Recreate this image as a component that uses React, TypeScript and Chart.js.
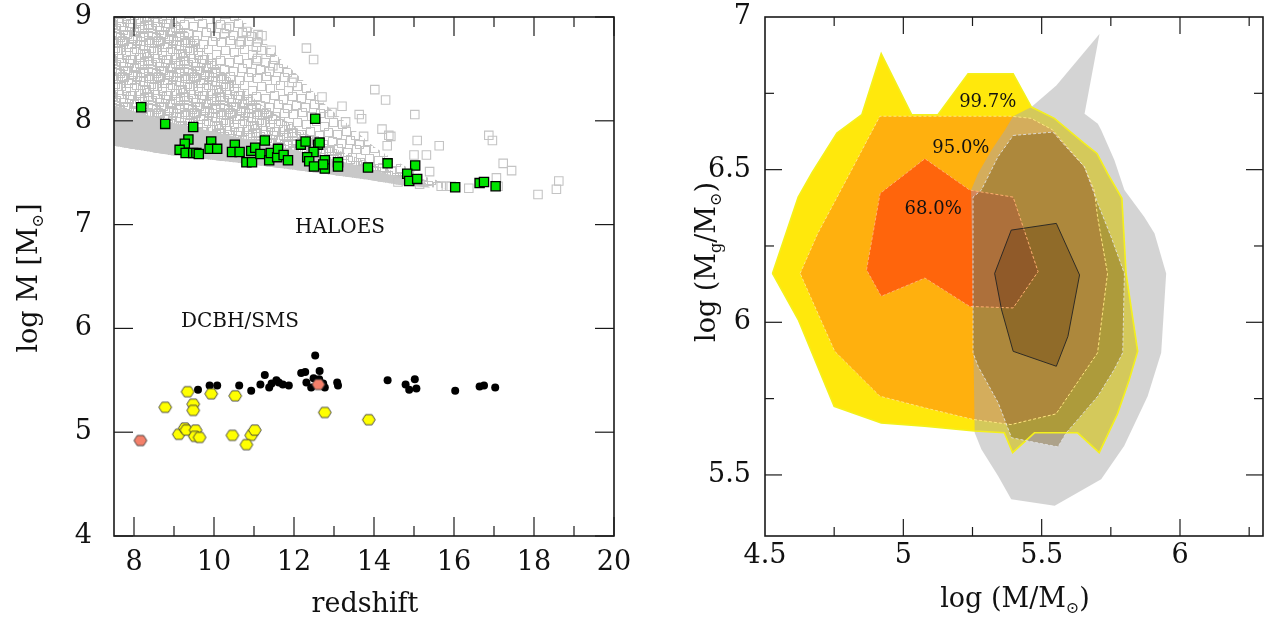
import React, { useEffect, useRef } from 'react';
import { Chart, registerables } from 'chart.js';

Chart.register(...registerables);

const FONT = '"DejaVu Serif", "Liberation Serif", serif';

// ---------------- Left panel data ----------------
const redshiftTicks = [8, 10, 12, 14, 16, 18, 20];
const redshiftMinorTicks = [9, 11, 13, 15, 17, 19];
const logMTicks = [4, 5, 6, 7, 8, 9];

// outlines of the halo cloud (open grey squares, too dense to separate)
const haloCloudOuter: number[][] = [
  [7.5, 9.0], [10.6, 9.0], [11.0, 8.88], [11.6, 8.62], [12.2, 8.4], [12.8, 8.15], [13.4, 7.95],
  [14.0, 7.75], [14.6, 7.6], [15.2, 7.47], [15.8, 7.4], [15.8, 7.35], [14.7, 7.38], [13.9, 7.43],
  [12.4, 7.51], [10.5, 7.6], [8.9, 7.67], [7.5, 7.76], [7.5, 9.0],
];
const haloCloudCore: number[][] = [
  [7.5, 9.0], [9.0, 9.0], [9.6, 8.75], [10.3, 8.45], [11.2, 8.15], [12.2, 7.9], [13.2, 7.7],
  [14.2, 7.55], [15.0, 7.45], [15.5, 7.37], [14.7, 7.38], [13.9, 7.43], [12.4, 7.51], [10.5, 7.6],
  [8.9, 7.67], [7.5, 7.76], [7.5, 9.0],
];
const haloCloudBand: number[][] = [
  [7.5, 8.15], [9.0, 7.98], [10.5, 7.85], [12.0, 7.72], [13.5, 7.58], [14.5, 7.47], [15.3, 7.39],
  [15.4, 7.355], [14.7, 7.38], [13.9, 7.43], [12.4, 7.51], [10.5, 7.6], [8.9, 7.67], [7.5, 7.76], [7.5, 8.15],
];
// individually visible grey halos outside the dense cloud
const haloSparse: number[][] = [
  [10.31, 8.89], [10.68, 8.76], [10.81, 8.86], [11.06, 8.71], [11.1, 8.83], [11.2, 8.82], [11.09, 8.6],
  [11.43, 8.68], [11.47, 8.53], [12.31, 8.7], [12.49, 8.59], [11.95, 8.37], [12.7, 8.23], [12.95, 8.08],
  [13.2, 8.14], [13.29, 7.99], [13.63, 8.06], [13.69, 8.02], [13.74, 7.85], [14.02, 8.3], [14.29, 8.2],
  [14.2, 7.92], [14.37, 7.86], [14.33, 7.76], [14.42, 7.85], [15.02, 8.06], [15.08, 7.81], [15.63, 7.76],
  [16.87, 7.86], [16.96, 7.81], [15.0, 7.67], [15.31, 7.67], [15.39, 7.51], [17.23, 7.59], [17.44, 7.52],
  [17.06, 7.45], [18.62, 7.42], [18.56, 7.34], [18.1, 7.29], [15.68, 7.37], [15.81, 7.37], [15.93, 7.37],
  [16.37, 7.35], [14.6, 7.41], [15.14, 7.39], [17.1, 7.37],
];
const haloHosts: number[][] = [
  [8.18, 8.13], [8.78, 7.97], [9.48, 7.94], [9.36, 7.82], [9.27, 7.78], [9.14, 7.72], [9.29, 7.69],
  [9.48, 7.69], [9.56, 7.69], [9.62, 7.68], [9.93, 7.8], [9.89, 7.73], [10.08, 7.73], [10.52, 7.77],
  [10.45, 7.7], [10.64, 7.7], [10.81, 7.6], [10.95, 7.6], [10.93, 7.71], [11.03, 7.74], [11.16, 7.68],
  [11.27, 7.81], [11.38, 7.62], [11.42, 7.69], [11.58, 7.65], [11.6, 7.73], [11.74, 7.67], [11.85, 7.62],
  [12.17, 7.77], [12.29, 7.8], [12.53, 8.02], [12.6, 7.77], [12.64, 7.79], [12.49, 7.7], [12.33, 7.65],
  [12.38, 7.61], [12.5, 7.56], [12.77, 7.62], [12.77, 7.54], [12.73, 7.58], [13.1, 7.6], [13.1, 7.56],
  [13.85, 7.55], [14.34, 7.59], [15.03, 7.57], [14.83, 7.49], [14.88, 7.42], [15.08, 7.44], [16.03, 7.36],
  [16.64, 7.4], [16.75, 7.41], [17.04, 7.37],
];
const dcbhBlack: number[][] = [
  [12.53, 5.74], [9.6, 5.41], [9.89, 5.45], [10.08, 5.45], [10.63, 5.45], [10.93, 5.4], [11.16, 5.46],
  [11.27, 5.55], [11.38, 5.43], [11.44, 5.47], [11.56, 5.5], [11.62, 5.48], [11.72, 5.46], [11.87, 5.45],
  [12.18, 5.57], [12.28, 5.58], [12.64, 5.59], [12.31, 5.48], [12.43, 5.43], [12.49, 5.52], [12.63, 5.51],
  [12.77, 5.43], [12.73, 5.47], [13.08, 5.48], [13.1, 5.45], [14.34, 5.5], [14.79, 5.46], [15.02, 5.51],
  [14.88, 5.41], [15.06, 5.42], [16.03, 5.4], [16.64, 5.44], [16.75, 5.45], [17.03, 5.43],
];
const smsYellow: number[][] = [
  [9.34, 5.39], [9.93, 5.37], [10.53, 5.35], [8.78, 5.24], [9.48, 5.27], [9.48, 5.21], [12.77, 5.19],
  [13.87, 5.12], [9.12, 4.98], [9.27, 5.04], [9.31, 5.02], [9.54, 5.02], [9.52, 4.96], [9.64, 4.95],
  [10.46, 4.97], [10.93, 4.97], [11.02, 5.02], [10.81, 4.88],
];
const smsSalmon: number[][] = [[8.16, 4.92], [12.61, 5.46]];

const leftTexts = [
  { text: 'HALOES', x: 13.15, y: 6.97 },
  { text: 'DCBH/SMS', x: 10.65, y: 6.06 },
];

// ---------------- Right panel data ----------------
const logMxTicks = [4.5, 5, 5.5, 6];
const logMxMajor = [5, 5.5, 6];
const logMxMinor = [4.75, 5.25, 5.75, 6.25];
const logMgTicks = [5.5, 6, 6.5, 7];
const logMgMajor = [5.5, 6, 6.5];
const logMgMinor = [5.75, 6.25, 6.75];

const contour997: number[][] = [
  [4.527, 6.16], [4.62, 6.41], [4.67, 6.49], [4.76, 6.62], [4.85, 6.68], [4.92, 6.88], [5.03, 6.68],
  [5.125, 6.68], [5.234, 6.814], [5.397, 6.814], [5.463, 6.705], [5.546, 6.668], [5.654, 6.586],
  [5.7, 6.553], [5.738, 6.488], [5.79, 6.406], [5.805, 6.16], [5.847, 5.905], [5.816, 5.81],
  [5.774, 5.7], [5.708, 5.573], [5.63, 5.638], [5.474, 5.638], [5.395, 5.573], [5.365, 5.638],
  [5.257, 5.644], [5.077, 5.66], [4.92, 5.67], [4.75, 5.725], [4.62, 6.009], [4.527, 6.16],
];
const contour950: number[][] = [
  [4.627, 6.16], [4.69, 6.29], [4.8, 6.477], [4.915, 6.675], [5.389, 6.675], [5.462, 6.668],
  [5.54, 6.63], [5.654, 6.51], [5.69, 6.433], [5.702, 6.346], [5.738, 6.16], [5.702, 5.9],
  [5.552, 5.7], [5.389, 5.665], [5.251, 5.682], [5.077, 5.72], [4.915, 5.758], [4.752, 5.905],
  [4.627, 6.16],
];
const contour680: number[][] = [
  [4.867, 6.172], [4.916, 6.422], [5.078, 6.536], [5.24, 6.433], [5.397, 6.41], [5.487, 6.166],
  [5.397, 6.047], [5.24, 6.052], [5.078, 6.145], [4.92, 6.085], [4.867, 6.172],
];
const second997: number[][] = [
  [5.245, 6.433], [5.27, 6.487], [5.319, 6.564], [5.367, 6.629], [5.397, 6.675], [5.463, 6.705],
  [5.553, 6.776], [5.709, 6.944], [5.655, 6.683], [5.703, 6.65], [5.715, 6.63], [5.763, 6.531],
  [5.799, 6.433], [5.871, 6.345], [5.908, 6.291], [5.95, 6.16], [5.932, 5.9], [5.883, 5.758],
  [5.798, 5.595], [5.715, 5.486], [5.547, 5.399], [5.39, 5.42], [5.342, 5.497], [5.282, 5.584],
  [5.258, 5.638], [5.252, 6.0], [5.245, 6.433],
];
const second950: number[][] = [
  [5.397, 6.612], [5.541, 6.623], [5.588, 6.575], [5.655, 6.509], [5.703, 6.389], [5.751, 6.28],
  [5.799, 6.16], [5.793, 5.9], [5.762, 5.845], [5.703, 5.758], [5.631, 5.682], [5.589, 5.638],
  [5.559, 5.592], [5.451, 5.611], [5.391, 5.622], [5.343, 5.736], [5.27, 5.856], [5.252, 5.9],
  [5.252, 6.41], [5.282, 6.433], [5.342, 6.542], [5.397, 6.612],
];
const second680: number[][] = [
  [5.39, 6.302], [5.553, 6.324], [5.637, 6.155], [5.595, 5.954], [5.553, 5.856], [5.397, 5.905],
  [5.355, 6.041], [5.33, 6.16], [5.39, 6.302],
];
const rightTexts = [
  { text: '99.7%', x: 5.305, y: 6.721 },
  { text: '95.0%', x: 5.208, y: 6.571 },
  { text: '68.0%', x: 5.108, y: 6.369 },
];

// ---------------- helpers ----------------
const pts = (a: number[][]) => a.map(([x, y]) => ({ x, y }));

function hexImage(fill: string) {
  const c = document.createElement('canvas');
  c.width = 16; c.height = 14;
  const g = c.getContext('2d')!;
  g.beginPath();
  const r = 6.4;
  for (let i = 0; i < 6; i++) {
    const a = (Math.PI / 3) * i;
    const x = 8 + r * Math.cos(a);
    const y = 7 + r * Math.sin(a) * 0.92;
    if (i === 0) g.moveTo(x, y); else g.lineTo(x, y);
  }
  g.closePath();
  g.fillStyle = fill;
  g.fill();
  g.strokeStyle = '#3a3a3a';
  g.lineWidth = 0.9;
  g.stroke();
  return c;
}

function meshPattern(ctx: CanvasRenderingContext2D, offs: number[][], color: string) {
  const s = 36;
  const c = document.createElement('canvas');
  c.width = s; c.height = s;
  const g = c.getContext('2d')!;
  g.strokeStyle = color;
  g.lineWidth = 1;
  for (const [x, y] of offs) {
    for (const dx of [-s, 0, s]) for (const dy of [-s, 0, s]) g.strokeRect(x + 0.5 + dx, y + 0.5 + dy, 8, 8);
  }
  return ctx.createPattern(c, 'repeat')!;
}
const DENSE_OFFS = [[0, 0], [6, 3], [12, 1], [19, 4], [25, 0], [31, 5], [3, 8], [9, 10], [16, 7], [22, 11],
  [28, 9], [34, 13], [1, 16], [7, 18], [14, 15], [20, 19], [27, 17], [32, 21], [4, 24], [11, 26], [17, 23],
  [24, 27], [30, 25], [0, 31], [8, 33], [15, 30], [21, 34], [28, 32]];
const SPARSE_OFFS = [[1, 2], [10, 0], [19, 4], [28, 1], [5, 10], [14, 12], [24, 9], [32, 14], [0, 20], [9, 22],
  [18, 19], [27, 23], [4, 29], [13, 31], [22, 28], [31, 32]];

type Seg = { t: string; sub?: boolean };
function drawRich(ctx: CanvasRenderingContext2D, segs: Seg[], cx: number, cy: number, size: number, rot: number) {
  ctx.save();
  ctx.translate(cx, cy);
  ctx.rotate(rot);
  const fonts = segs.map((s) => `${s.sub ? Math.round(size * 0.6) : size}px ${FONT}`);
  let total = 0;
  const widths = segs.map((s, i) => {
    ctx.font = fonts[i];
    const w = ctx.measureText(s.t).width;
    total += w;
    return w;
  });
  let x = -total / 2;
  ctx.fillStyle = '#111';
  ctx.textBaseline = 'alphabetic';
  ctx.textAlign = 'left';
  segs.forEach((s, i) => {
    ctx.font = fonts[i];
    ctx.fillText(s.t, x, size * 0.36 + (s.sub ? size * 0.22 : 0));
    x += widths[i];
  });
  ctx.restore();
}

type DecoCfg = {
  xMajor: number[]; xMinor: number[]; yMajor: number[]; yMinor: number[];
  major: number; minor: number;
  texts: { text: string; x: number; y: number }[]; textSize: number;
  xTitle: Seg[]; xTitlePos: [number, number]; yTitle: Seg[]; yTitlePos: [number, number]; titleSize: number;
};

function makeDeco(cfg: DecoCfg) {
  return {
    id: 'deco',
    afterDraw(chart: any) {
      const { ctx, chartArea: a, scales } = chart;
      const sx = scales.x, sy = scales.y;
      ctx.save();
      ctx.strokeStyle = '#1a1a1a';
      ctx.lineWidth = 1.2;
      const line = (x1: number, y1: number, x2: number, y2: number) => {
        ctx.beginPath(); ctx.moveTo(x1, y1); ctx.lineTo(x2, y2); ctx.stroke();
      };
      const xt = (vals: number[], len: number) => vals.forEach((v) => {
        const p = sx.getPixelForValue(v);
        line(p, a.bottom, p, a.bottom - len);
        line(p, a.top, p, a.top + len);
      });
      const yt = (vals: number[], len: number) => vals.forEach((v) => {
        const p = sy.getPixelForValue(v);
        line(a.left, p, a.left + len, p);
        line(a.right, p, a.right - len, p);
      });
      xt(cfg.xMajor, cfg.major); xt(cfg.xMinor, cfg.minor);
      yt(cfg.yMajor, cfg.major); yt(cfg.yMinor, cfg.minor);
      ctx.lineWidth = 1.6;
      ctx.strokeRect(a.left, a.top, a.right - a.left, a.bottom - a.top);
      ctx.fillStyle = '#111';
      ctx.font = `${cfg.textSize}px ${FONT}`;
      ctx.textAlign = 'center';
      ctx.textBaseline = 'middle';
      cfg.texts.forEach((t) => ctx.fillText(t.text, sx.getPixelForValue(t.x), sy.getPixelForValue(t.y)));
      ctx.restore();
      drawRich(ctx, cfg.xTitle, cfg.xTitlePos[0], cfg.xTitlePos[1], cfg.titleSize, 0);
      drawRich(ctx, cfg.yTitle, cfg.yTitlePos[0], cfg.yTitlePos[1], cfg.titleSize, -Math.PI / 2);
    },
  };
}

function axisOpts(min: number, max: number, ticks: number[], size: number, padding: number, fit: (s: any) => void) {
  return {
    type: 'linear' as const,
    min, max,
    grid: { display: false },
    border: { display: false },
    afterBuildTicks: (s: any) => { s.ticks = ticks.map((v) => ({ value: v })); },
    afterFit: (s: any) => {
      fit(s);
      s.paddingLeft = 0; s.paddingRight = 0; s.paddingTop = 0; s.paddingBottom = 0;
    },
    ticks: {
      padding,
      color: '#111',
      font: { family: FONT, size },
      autoSkip: false,
      maxRotation: 0,
      callback: (v: any) => String(v),
    },
  };
}

const polyDs = (d: number[][], bg: any, order: number) => ({
  data: pts(d), showLine: true, fill: 'shape', backgroundColor: bg, borderWidth: 0,
  borderColor: 'rgba(0,0,0,0)', pointRadius: 0, order,
});

function LeftChart() {
  const ref = useRef<HTMLCanvasElement>(null);
  useEffect(() => {
    const canvas = ref.current!;
    const ctx = canvas.getContext('2d')!;
    const yellowHex = hexImage('#ffff00');
    const salmonHex = hexImage('#f4806a');
    const chart = new Chart(canvas, {
      type: 'scatter',
      data: {
        datasets: [
          { data: pts(smsSalmon), pointStyle: salmonHex, pointRadius: 6, order: 0 },
          { data: pts(smsYellow), pointStyle: yellowHex, pointRadius: 6, order: 1 },
          { data: pts(dcbhBlack), pointStyle: 'circle', pointRadius: 4, backgroundColor: '#000', borderWidth: 0, order: 2 },
          { data: pts(haloHosts), pointStyle: 'rect', pointRadius: 6.5, backgroundColor: '#00e400', borderColor: '#000', borderWidth: 1.3, order: 3 },
          { data: pts(haloSparse), pointStyle: 'rect', pointRadius: 6, backgroundColor: 'rgba(0,0,0,0)', borderColor: '#c4c4c4', borderWidth: 1.1, order: 4 },
          polyDs(haloCloudBand, '#c8c8c8', 5),
          polyDs(haloCloudCore, meshPattern(ctx, DENSE_OFFS, 'rgb(192,192,192)'), 6),
          polyDs(haloCloudOuter, meshPattern(ctx, SPARSE_OFFS, 'rgb(196,196,196)'), 7),
        ] as any,
      },
      options: {
        responsive: false,
        animation: false,
        events: [],
        layout: { padding: { top: 17, right: 18, left: 0, bottom: 0 } },
        plugins: { legend: { display: false }, tooltip: { enabled: false } },
        scales: {
          x: axisOpts(7.5, 20, redshiftTicks, 27, 3, (s: any) => { s.height = 82; }),
          y: axisOpts(4, 9, logMTicks, 27, 14, (s: any) => { s.width = 114; }),
        },
      },
      plugins: [makeDeco({
        xMajor: redshiftTicks, xMinor: redshiftMinorTicks, yMajor: logMTicks, yMinor: [],
        major: 19, minor: 10, texts: leftTexts, textSize: 20,
        xTitle: [{ t: 'redshift' }], xTitlePos: [365, 602],
        yTitle: [{ t: 'log M [M' }, { t: '⊙', sub: true }, { t: ']' }], yTitlePos: [27, 278],
        titleSize: 27,
      })],
    });
    return () => chart.destroy();
  }, []);
  return <canvas ref={ref} width={632} height={618} style={{ display: 'block', width: 632, height: 618 }} />;
}

function RightChart() {
  const ref = useRef<HTMLCanvasElement>(null);
  useEffect(() => {
    const canvas = ref.current!;
    const outline = (d: number[][], color: string, width: number, dash: number[], order: number) => ({
      data: pts(d), showLine: true, fill: false, borderColor: color, borderWidth: width,
      borderDash: dash, pointRadius: 0, order,
    });
    const chart = new Chart(canvas, {
      type: 'scatter',
      data: {
        datasets: [
          outline(second680, '#222', 0.9, [], 0),
          outline(second950, 'rgba(225,225,225,0.9)', 1, [3, 2], 1),
          outline(contour680, '#ffb070', 1, [3, 2], 2),
          outline(contour950, '#ffe680', 1, [3, 2], 3),
          outline(contour997, '#f4f01c', 1.6, [], 4),
          polyDs(second680, 'rgba(80,40,0,0.3)', 5),
          polyDs(second950, 'rgba(100,70,0,0.35)', 6),
          polyDs(second997, 'rgba(170,170,170,0.5)', 7),
          polyDs(contour680, '#ff650c', 8),
          polyDs(contour950, '#ffb00e', 9),
          polyDs(contour997, '#ffe80c', 10),
        ] as any,
      },
      options: {
        responsive: false,
        animation: false,
        events: [],
        layout: { padding: { top: 17, right: 1, left: 0, bottom: 0 } },
        plugins: { legend: { display: false }, tooltip: { enabled: false } },
        scales: {
          x: axisOpts(4.5, 6.3, logMxTicks, 27, -4, (s: any) => { s.height = 82; }),
          y: axisOpts(5.3, 7, logMgTicks, 27, 6, (s: any) => { s.width = 133; }),
        },
      },
      plugins: [makeDeco({
        xMajor: logMxMajor, xMinor: logMxMinor, yMajor: logMgMajor, yMinor: logMgMinor,
        major: 17, minor: 9, texts: rightTexts, textSize: 18,
        xTitle: [{ t: 'log (M/M' }, { t: '⊙', sub: true }, { t: ')' }], xTitlePos: [383, 597],
        yTitle: [{ t: 'log (M' }, { t: 'g', sub: true }, { t: '/M' }, { t: '⊙', sub: true }, { t: ')' }], yTitlePos: [73, 262],
        titleSize: 27,
      })],
    });
    return () => chart.destroy();
  }, []);
  return <canvas ref={ref} width={632} height={618} style={{ display: 'block', width: 632, height: 618 }} />;
}

export default function App() {
  return (
    <div style={{ position: 'absolute', left: 0, top: 0, width: 1264, height: 618, background: '#fff', display: 'flex' }}>
      <LeftChart />
      <RightChart />
    </div>
  );
}
